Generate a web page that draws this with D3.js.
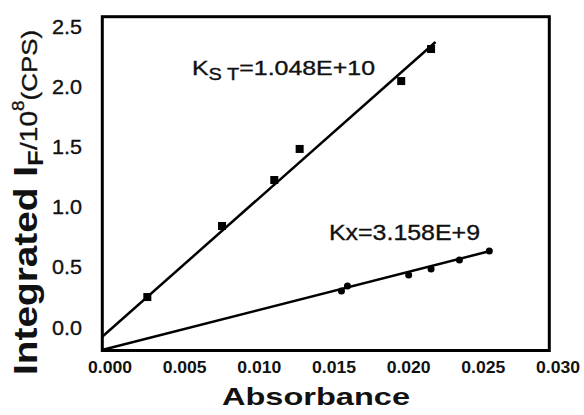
<!DOCTYPE html>
<html>
<head>
<meta charset="utf-8">
<script src="https://cdn.jsdelivr.net/npm/d3@7"></script>
<style>
  body { margin: 0; background: #fff; }
  text { font-family: Arial, "Liberation Sans", sans-serif; fill: #111; }
  .heavy { stroke: #111; stroke-width: 0.35; }
</style>
</head>
<body>
<svg width="584" height="415"></svg>
<script>
// ---- data ----
const stAbs = [0.0025, 0.0075, 0.011, 0.0127, 0.0195, 0.0215];
const stInt = [0.253, 0.843, 1.225, 1.483, 2.047, 2.313];

const xAbs = [0.0155, 0.0159, 0.020, 0.0215, 0.0234, 0.0254];
const xInt = [0.303, 0.345, 0.436, 0.486, 0.561, 0.635];

// fitted lines, start and end points
const stFitAbs = [-0.00054, 0.0218];
const stFitInt = [-0.079, 2.371];
const xFitAbs = [-0.00054, 0.02545];
const xFitInt = [-0.187, 0.635];

const xTicks = [0, 0.005, 0.01, 0.015, 0.02, 0.025, 0.03];
const yTicks = [0, 0.5, 1.0, 1.5, 2.0, 2.5];

const svg = d3.select('svg');

// plot frame in pixels
const frame = {left: 102.3, right: 549.3, top: 16.7, bottom: 350.5};

const x = d3.scaleLinear().domain([0, 0.03]).range([110, 558]);
const y = d3.scaleLinear().domain([0, 2.5]).range([327.5, 26.5]);

svg.append('rect')
    .attr('x', frame.left)
    .attr('y', frame.top)
    .attr('width', frame.right - frame.left)
    .attr('height', frame.bottom - frame.top)
    .attr('fill', 'none')
    .attr('stroke', '#000')
    .attr('stroke-width', 3);

// tick labels
svg.selectAll('.xtick').data(xTicks)
  .enter().append('text')
    .attr('class', 'xtick')
    .attr('x', d => x(d))
    .attr('y', 373)
    .attr('text-anchor', 'middle')
    .attr('font-size', 16)
    .attr('font-weight', 'bold')
    .attr('textLength', 44)
    .attr('lengthAdjust', 'spacingAndGlyphs')
    .text(d3.format('.3f'));

svg.selectAll('.ytick').data(yTicks)
  .enter().append('text')
    .attr('class', 'ytick heavy')
    .attr('x', 82)
    .attr('y', d => y(d) + 7)
    .attr('text-anchor', 'end')
    .attr('font-size', 20)
    .attr('textLength', 30)
    .attr('lengthAdjust', 'spacingAndGlyphs')
    .text(d3.format('.1f'));

// axis titles
svg.append('text')
    .attr('x', 316)
    .attr('y', 405)
    .attr('text-anchor', 'middle')
    .attr('font-size', 24)
    .attr('font-weight', 'bold')
    .attr('textLength', 188)
    .attr('lengthAdjust', 'spacingAndGlyphs')
    .text('Absorbance');

const yTitle = svg.append('text')
    .attr('transform', 'translate(37,375) rotate(-90)')
    .attr('textLength', 345)
    .attr('lengthAdjust', 'spacingAndGlyphs');
yTitle.append('tspan').attr('font-size', 33).attr('font-weight', 'bold').text('Integrated I');
yTitle.append('tspan').attr('font-size', 22).attr('font-weight', 'bold').attr('dy', 6).text('F');
yTitle.append('tspan').attr('font-size', 24).attr('class', 'heavy').attr('dy', -6).text('/10');
yTitle.append('tspan').attr('font-size', 16).attr('class', 'heavy').attr('dy', -13).text('8');
yTitle.append('tspan').attr('font-size', 22).attr('class', 'heavy').attr('dy', 13).text('(CPS)');

// fitted lines
const line = d3.line().x(d => x(d[0])).y(d => y(d[1]));
[[stFitAbs, stFitInt], [xFitAbs, xFitInt]].forEach(([a, b]) => {
    svg.append('path')
        .attr('d', line(d3.zip(a, b)))
        .attr('fill', 'none')
        .attr('stroke', '#000')
        .attr('stroke-width', 2.5);
});

// markers
svg.selectAll('.sq').data(d3.zip(stAbs, stInt))
  .enter().append('rect')
    .attr('class', 'sq')
    .attr('x', d => x(d[0]) - 4)
    .attr('y', d => y(d[1]) - 4)
    .attr('width', 8)
    .attr('height', 8)
    .attr('fill', '#000');

svg.selectAll('.dot').data(d3.zip(xAbs, xInt))
  .enter().append('circle')
    .attr('class', 'dot')
    .attr('cx', d => x(d[0]))
    .attr('cy', d => y(d[1]))
    .attr('r', 3.5)
    .attr('fill', '#000');

// annotations
const kst = svg.append('text')
    .attr('class', 'heavy')
    .attr('x', 192)
    .attr('y', 75)
    .attr('textLength', 183)
    .attr('lengthAdjust', 'spacingAndGlyphs');
kst.append('tspan').attr('font-size', 20).text('K');
kst.append('tspan').attr('font-size', 16).attr('dy', 5).text('S T');
kst.append('tspan').attr('font-size', 20).attr('dy', -5).text('=1.048E+10');

svg.append('text')
    .attr('class', 'heavy')
    .attr('x', 329)
    .attr('y', 240)
    .attr('font-size', 22)
    .attr('textLength', 151)
    .attr('lengthAdjust', 'spacingAndGlyphs')
    .text('Kx=3.158E+9');
</script>
</body>
</html>
